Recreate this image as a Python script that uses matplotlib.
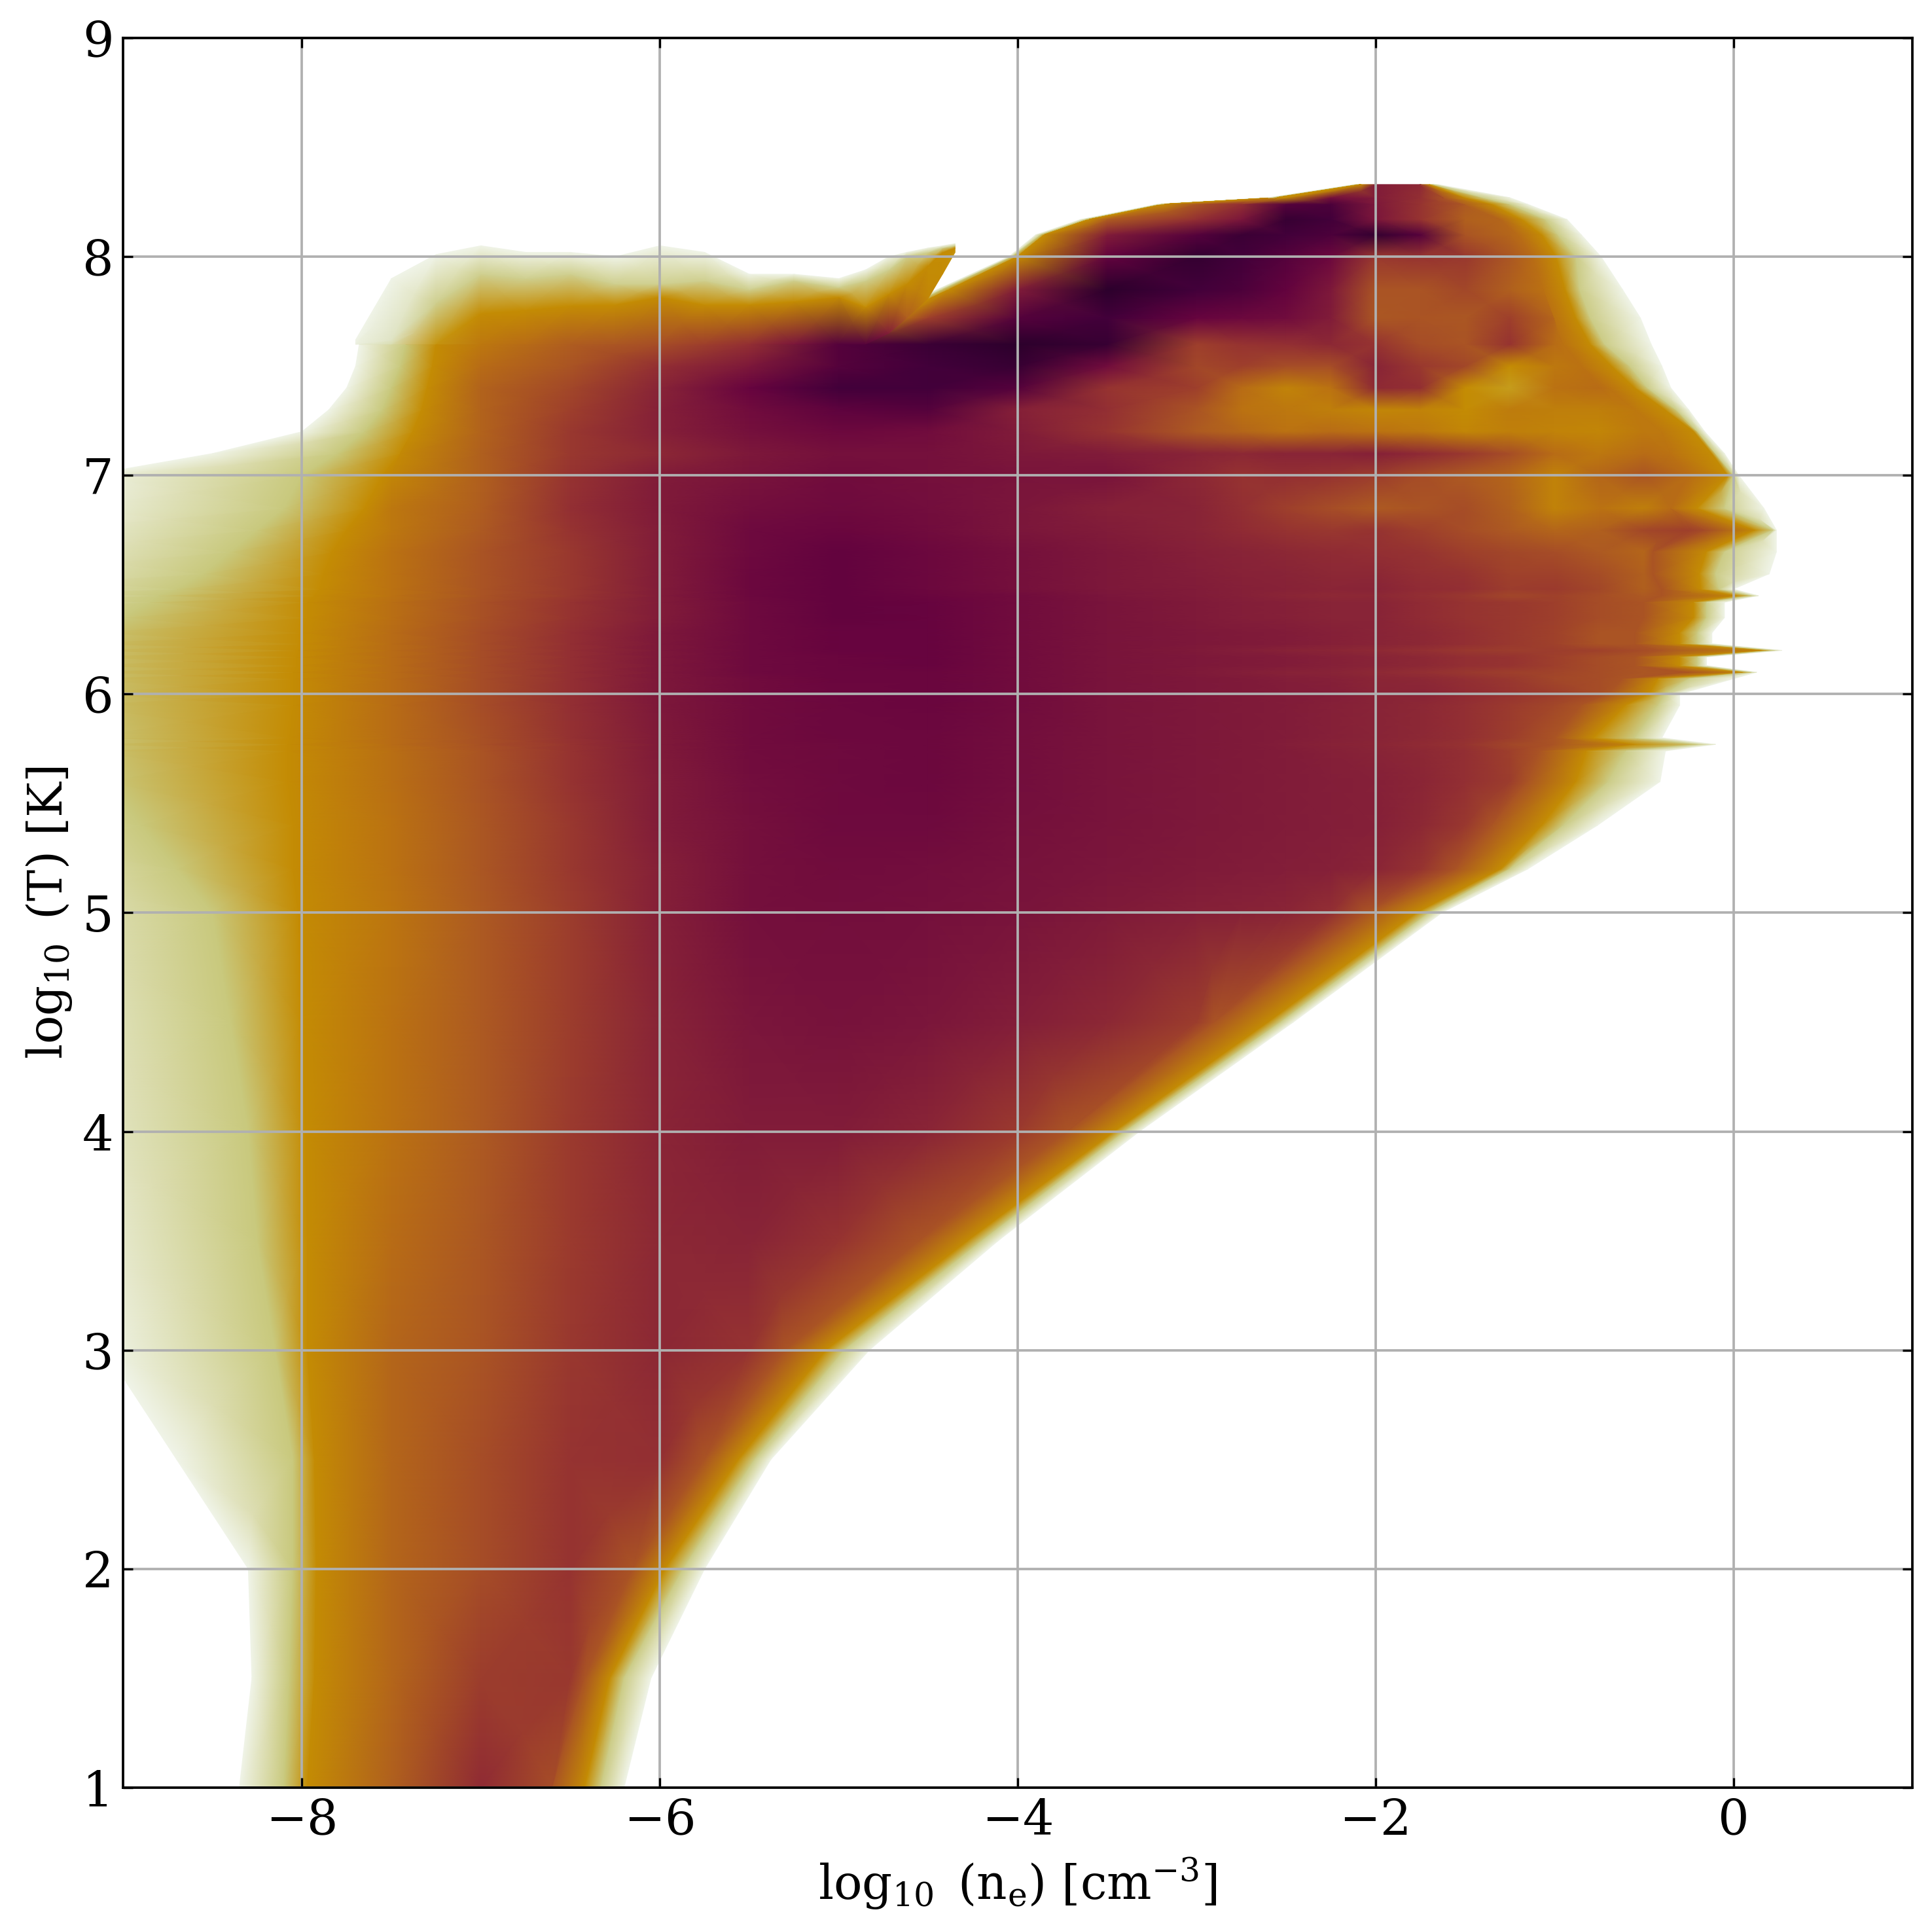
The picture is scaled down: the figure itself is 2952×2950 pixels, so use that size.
import numpy as np
import matplotlib
matplotlib.use("Agg")
import matplotlib.pyplot as plt
from matplotlib.colors import LinearSegmentedColormap, Normalize

plt.rcParams['font.family'] = 'DejaVu Serif'
plt.rcParams['mathtext.fontset'] = 'dejavuserif'

# log10(T) of each sampled row of the phase diagram
T_rows = [1,1.5,2,2.5,3,3.5,4,4.5,5,5.2,5.4,5.6,5.74,5.77,5.80,5.95,6.0,6.07,6.1,6.13,6.17,6.2,6.23,6.28,6.35,6.42,6.45,6.48,6.55,
          6.65,6.75,6.85,7,7.1,7.2,7.3,7.4,7.5,7.6,7.72,7.85,8.0,8.1,8.17,8.24,8.27,8.33]
# low-density edge of the distribution: faint end, olive, gold
left_pale = [-8.35,-8.28,-8.3,-8.7,-9.1,-9.3,-9.5,-9.6,-9.8,-9.9,-10.2,-10.5,-10.6,-10.6,-10.6,-10.8,-10.8,-10.8,-10.8,-10.8,-10.8,-10.8,-10.8,-10.8,-10.5,-10.2,-10.1,
             -10,-9.8,-9.6,-9.45,-9.3,-9.2,-8.5,-8,-7.85,-7.75,-7.7,-7.68,-4.78,-4.45,-4.05,-3.9,-3.65,-3.22,-2.6,-2.12]
left_olive = [-8.1,-8.07,-8.05,-8.05,-8.15,-8.25,-8.3,-8.4,-8.5,-8.7,-8.9,-9.1,-9.2,-9.2,-9.2,-9.3,-9.3,-9.3,-9.3,-9.3,-9.3,-9.3,-9.3,-9.2,-9,-8.85,-8.8,
              -8.7,-8.55,-8.4,-8.25,-8.1,-8,-7.8,-7.65,-7.55,-7.5,-7.45,-7.42,-4.75,-4.42,-4.03,-3.87,-3.62,-3.2,-2.57,-2.1]
left_gold = [-7.97,-7.93,-7.92,-7.93,-7.97,-7.97,-7.98,-8,-8.02,-8.05,-8.05,-8.08,-8.08,-8.08,-8.07,-8.05,-8.05,-8.05,-8.05,-8.03,-8.03,-8.02,-8,-8,-7.97,-7.97,-7.93,
             -7.9,-7.88,-7.83,-7.75,-7.65,-7.55,-7.45,-7.38,-7.33,-7.3,-7.27,-7.25,-4.72,-4.38,-4,-3.85,-3.6,-3.18,-2.55,-2.08]
# high-density edge of the distribution: brown, gold, olive, faint end
right_brown = [-6.6,-6.42,-6.15,-5.75,-5.3,-4.55,-3.72,-2.9,-2.05,-1.55,-1.35,-1.15,-1.08,-1,-1,-0.85,-0.7,-0.62,-0.25,-0.55,-0.55,-0.4,-0.55,-0.55,-0.5,-0.5,-0.4,
               -0.4,-0.45,-0.45,-0.15,-0.35,-0.25,-0.35,-0.4,-0.55,-0.7,-0.85,-0.95,-1,-1.06,-1.12,-1.2,-1.3,-1.5,-1.62,-1.75]
right_gold = [-6.42,-6.28,-5.97,-5.56,-5.07,-4.28,-3.46,-2.6,-1.77,-1.3,-1.07,-0.88,-0.82,-0.55,-0.78,-0.6,-0.47,-0.42,0.05,-0.3,-0.3,0.18,-0.3,-0.3,-0.22,-0.22,0.02,
              -0.18,-0.19,-0.15,0.12,-0.2,-0.03,-0.12,-0.22,-0.38,-0.55,-0.68,-0.8,-0.88,-0.94,-0.99,-1.07,-1.18,-1.35,-1.5,-1.7]
right_olive = [-6.33,-6.2,-5.87,-5.47,-4.97,-4.2,-3.4,-2.53,-1.7,-1.25,-0.95,-0.7,-0.6,-0.2,-0.55,-0.42,-0.38,-0.25,0.1,-0.2,-0.2,0.23,-0.2,-0.2,-0.15,-0.15,0.1,
               -0.08,-0.1,-0.05,0.22,-0.05,0,-0.1,-0.2,-0.32,-0.48,-0.58,-0.72,-0.8,-0.86,-0.88,-0.98,-1.05,-1.25,-1.4,-1.68]
right_pale = [-6.2,-6.05,-5.75,-5.38,-4.83,-4.11,-3.32,-2.46,-1.63,-1.15,-0.76,-0.41,-0.38,-0.1,-0.4,-0.3,-0.3,0,0.13,-0.15,-0.15,0.27,-0.12,-0.12,-0.05,-0.05,0.14,
              0,0.2,0.24,0.24,0.17,0.03,-0.05,-0.16,-0.25,-0.35,-0.4,-0.46,-0.52,-0.62,-0.74,-0.85,-0.93,-1.15,-1.25,-1.65]
right_brown_level = [48]*30 + [50,40,40,38,36,36,38,38,38,38,38,40,40,42,44,48,60]

# log10(n_e) columns of the interior samples
ne_cols = [-7.5,-7,-6.5,-6,-5.5,-5,-4.5,-4,-3.5,-3,-2.75,-2.5,-2.25,-2,-1.75,-1.5,-1.25,-1,-0.75,-0.5,-0.25,0]
# colour-scale level of the interior samples, one list per row of T_rows
levels = [
 [44,64,50],
 [42,56,58],
 [42,50,60],
 [42,50,60,62],
 [42,48,58,66,60],
 [40,47,57,66,68,60],
 [38,46,57,67,72,72,67,57],
 [38,46,56,68,75,77,75,71,66,56],
 [37,46,56,70,78,79,78,76,73,70,69,67,62],
 [38,47,58,70,78,80,79,77,75,73,72,71,70,67,60],
 [38,47,58,72,78,81,81,78,76,74,73,72,71,70,66,58],
 [39,48,60,72,79,81,82,79,76,74,73,72,71,70,67,62,56],
 [39,48,60,73,80,81,82,79,76,74,73,72,70,68,66,62,55],
 [40,49,60,73,80,81,82,79,76,74,73,71,69,67,64,60,52],
 [40,49,61,73,80,82,82,79,76,74,73,72,70,68,66,62,56],
 [40,50,62,74,80,82,83,80,76,74,73,72,70,68,66,62,57,52],
 [40,50,62,74,80,82,83,80,76,74,73,72,71,68,68,64,60,56,50],
 [40,50,62,74,80,83,83,80,76,74,73,71,70,67,66,62,58,52,50],
 [40,50,62,74,81,83,83,80,76,73,71,69,68,65,62,58,55,53,50,47],
 [40,50,62,74,81,83,84,80,76,74,73,72,70,68,66,62,60,55,50],
 [40,50,62,74,81,83,84,80,76,74,73,72,70,68,66,62,60,55,50],
 [40,50,62,74,81,84,84,80,76,73,71,69,67,65,62,58,56,56,54,50],
 [40,50,62,74,81,84,84,80,76,74,73,72,70,68,66,62,58,54,48],
 [40,50,62,74,81,84,84,80,76,74,73,72,70,68,66,62,58,54,48],
 [39,49,60,72,81,85,84,80,76,73,71,70,68,68,64,60,58,55,50],
 [39,49,60,72,81,85,84,80,76,73,71,70,68,68,64,60,58,55,50],
 [38,48,58,72,82,85,83,80,75,72,70,67,65,66,62,58,52,54,50,46],
 [38,48,58,72,82,85,82,78,74,72,70,69,67,68,64,62,56,57,52,44],
 [38,48,58,72,82,85,82,78,74,71,69,68,66,66,62,60,54,54,50,44],
 [38,48,58,72,81,85,82,78,74,70,68,66,64,62,60,55,52,50,46,42],
 [36,46,60,72,81,83,80,75,72,68,64,60,58,60,55,50,46,42,44,52,55],
 [36,45,62,73,79,81,79,75,70,68,62,55,50,46,48,50,44,33,38,34],
 [32,44,60,72,76,80,78,76,76,66,60,62,60,56,50,46,42,33,42,48],
 [31,44,58,66,74,78,78,74,72,68,66,68,68,70,65,58,50,40,36,40],
 [30,43,58,70,78,82,80,72,60,46,42,38,40,38,36,32,34,33,32,36],
 [30,43,55,70,80,86,88,70,62,48,38,36,34,32,33,30,35,34,34],
 [30,43,52,68,84,92,92,88,60,55,40,33,38,65,62,30,26,38,40],
 [30,40,48,62,74,88,92,95,80,52,55,50,50,68,58,52,30,36],
 [30,36,45,50,62,88,94,98,95,55,60,62,66,60,50,48,60,40],
 [30,30,30,30,30,30,55,88,92,84,82,80,72,47,48,47,55,42],
 [30,30,30,30,30,30,30,72,98,92,90,85,74,48,48,52,44],
 [30,30,30,30,30,30,30,30,85,96,92,88,82,58,60,58,47],
 [30,30,30,30,30,30,30,30,72,88,94,92,90,96,88,48,42],
 [30,30,30,30,30,30,30,30,45,62,75,95,92,75,60,44],
 [30,30,30,30,30,30,30,30,30,48,62,88,90,74,60,46],
 [30,30,30,30,30,30,30,30,30,30,30,30,78,72,62],
 [30,30,30,30,30,30,30,30,30,30,30,30,30,72,65],
]
# colour-scale levels at the edge samples
left_stop_levels = [0, 16, 30]
right_stop_levels = [30, 15, 0]

# crest above log T = 7.6 on the low-density side, sampled along log10(n_e)
crest_ne = [-7.7,-7.5,-7.25,-7,-6.75,-6.5,-6.25,-6,-5.75,-5.5,-5.25,-5,-4.85,-4.72,-4.62,-4.5,-4.42,-4.35]
crest_base_T = [7.6,7.6,7.6,7.6,7.6,7.6,7.6,7.6,7.6,7.6,7.6,7.6,7.6,7.65,7.72,7.81,7.92,8.02]
crest_gold_T = [7.6,7.6,7.6,7.74,7.755,7.775,7.78,7.815,7.78,7.78,7.795,7.815,7.77,7.83,7.875,7.96,8.02,8.04]
crest_olive_T = [7.6,7.62,7.79,7.92,7.9,7.92,7.875,7.875,7.89,7.85,7.89,7.86,7.89,7.94,8.0,8.02,8.04,8.05]
crest_pale_T = [7.62,7.9,8.01,8.05,8.02,8.02,8.0,8.05,8.02,7.92,7.92,7.9,7.94,8.0,8.02,8.04,8.05,8.06]
crest_base_level = [3,10,28,36,40,45,47,50,55,62,75,88,88,72,45,32,30,28]
crest_gold_level = [3,10,28,30,30,30,30,30,30,30,30,30,30,30,30,30,30,30]
crest_olive_level = [2,8,14,14,14,14,14,14,14,14,14,14,14,14,14,14,14,14]

x_ticks = [-8,-6,-4,-2,0]
y_ticks = [1,2,3,4,5,6,7,8,9]

anchors = [(0.00,'#f0f4e8'),(0.08,'#e0e4c4'),(0.16,'#c9c87c'),(0.22,'#c9ae35'),(0.30,'#c48c04'),
           (0.38,'#bb7212'),(0.46,'#ad5a22'),(0.54,'#9f412b'),(0.62,'#932f33'),(0.70,'#852038'),
           (0.78,'#75103c'),(0.84,'#68043f'),(0.92,'#43003a'),(1.00,'#250028')]
cmap = LinearSegmentedColormap.from_list('phase', anchors, N=512)
norm = Normalize(0, 100)

n_rows, n_cols = len(T_rows), len(ne_cols)
X, C = [], []
for i in range(n_rows):
    lv = list(levels[i]) + [right_brown_level[i]] * (n_cols - len(levels[i]))
    cols = np.clip(ne_cols, left_gold[i], right_brown[i])
    X.append([left_pale[i], left_olive[i], left_gold[i], *cols,
              right_brown[i], right_gold[i], right_olive[i], right_pale[i]])
    C.append(left_stop_levels + lv + [right_brown_level[i]] + right_stop_levels)
X, C = np.array(X, float), np.array(C, float)
Y = np.repeat(np.array(T_rows, float)[:, None], X.shape[1], axis=1)

fig = plt.figure(figsize=(2952/300, 2950/300), dpi=300)
ax = fig.add_axes([188/2952, 1-2731/2950, 2734/2952, 2673/2950])
ax.pcolormesh(X, Y, C, shading='gouraud', cmap=cmap, norm=norm, rasterized=True)

n = len(crest_ne)
cX = np.repeat(np.array(crest_ne, float)[None, :], 4, axis=0)
cY = np.array([crest_base_T, crest_gold_T, crest_olive_T, crest_pale_T], float)
cC = np.array([crest_base_level, crest_gold_level, crest_olive_level, [0]*n], float)
ax.pcolormesh(cX, cY, cC, shading='gouraud', cmap=cmap, norm=norm, rasterized=True)

ax.set_xlim(-9, 1)
ax.set_ylim(1, 9)
ax.set_xticks(x_ticks)
ax.set_yticks(y_ticks)
ax.grid(True, color='#b0b0b0', lw=0.9)
ax.tick_params(direction='in', top=True, right=True, labelsize=18, length=3.5, width=0.8, pad=3.5)
for s in ax.spines.values():
    s.set_linewidth(0.9)
ax.set_xlabel(r'$\log_{10}$ ($\mathrm{n_e}$) [cm$^{-3}$]', fontsize=17.3, labelpad=4)
ax.set_ylabel(r'$\log_{10}$ (T) [K]', fontsize=17.3, labelpad=3)
fig.savefig('out.png', dpi=300)
